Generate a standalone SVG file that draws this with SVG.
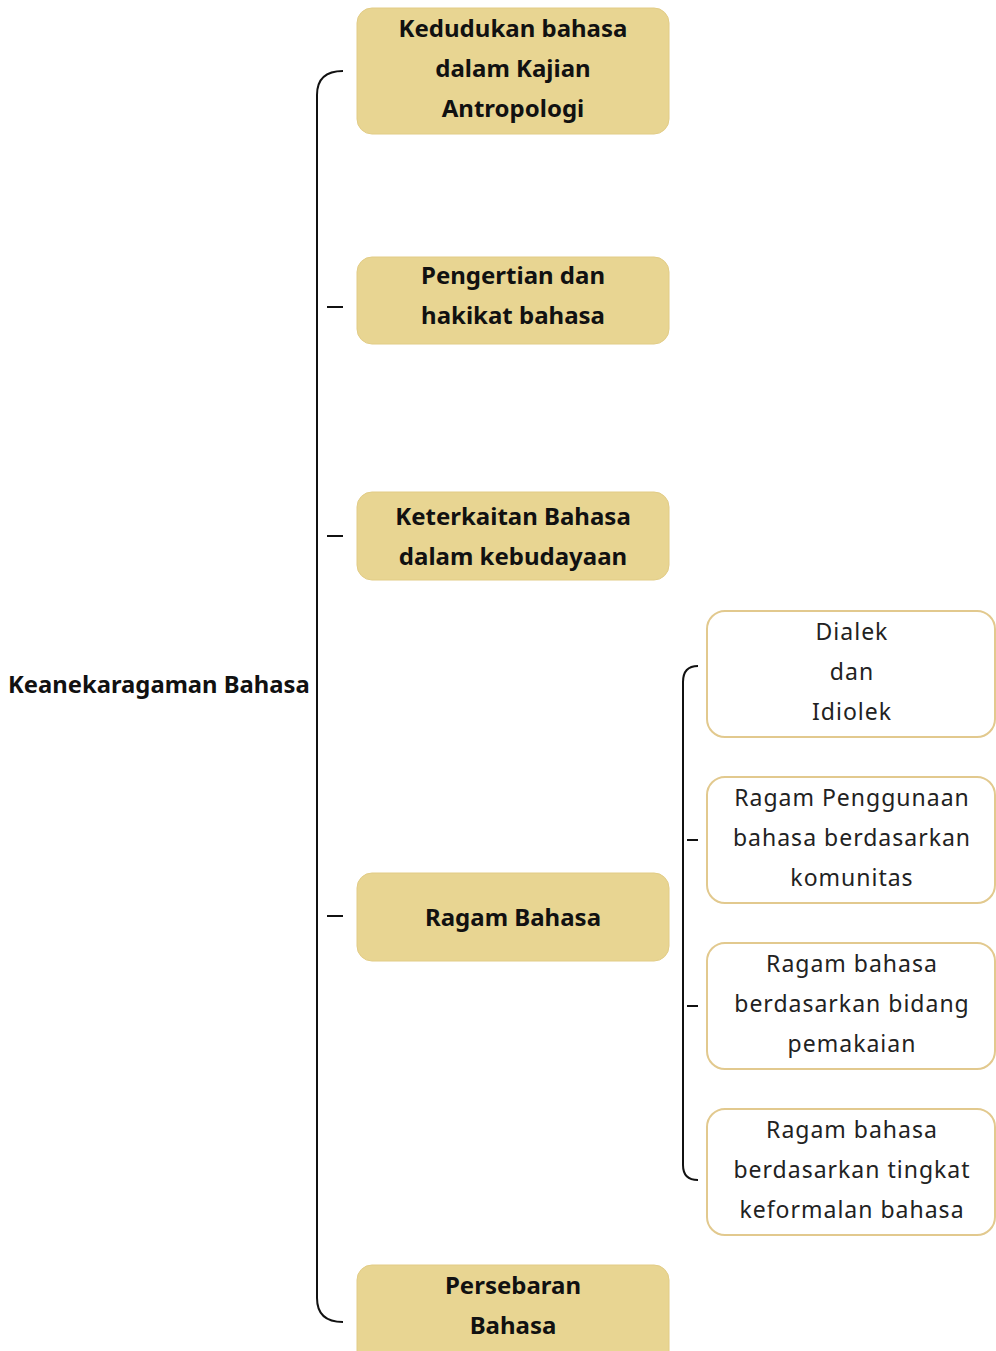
<svg xmlns="http://www.w3.org/2000/svg" width="996" height="1351" viewBox="0 0 996 1351">
<style>
.main rect{fill:#E8D592;stroke:#E2CC86;stroke-width:1}
.main text{font-family:"Noto Sans","Open Sans",sans-serif;font-weight:bold;font-size:24px;fill:#111;text-anchor:middle}
.sub rect{fill:#fff;stroke:#E2C98E;stroke-width:2}
.sub text{font-family:"Noto Sans","Open Sans",sans-serif;font-size:23px;fill:#222;text-anchor:middle;letter-spacing:1px}
.root text{font-family:"Noto Sans","Open Sans",sans-serif;font-weight:bold;font-size:23.8px;fill:#111}
.conn path{fill:none;stroke:#111;stroke-width:2}
</style>
<rect width="996" height="1351" fill="#fff"/>
<g class="conn" id="connectors">
<path d="M343,71 Q317,71 317,95 L317,1298 Q317,1322 343,1322"/>
<path d="M327,307 H343 M327,536 H343 M327,916 H343"/>
<path d="M698,666 Q683,666 683,682 L683,1165 Q683,1180 698,1180"/>
<path d="M687,840 H698 M687,1006 H698"/>
</g>
<g class="root" id="root"><text x="8" y="693">Keanekaragaman Bahasa</text></g>
<g class="main" id="n1"><rect x="357" y="8" width="312" height="126" rx="15"/>
<text x="513" y="37">Kedudukan bahasa</text><text x="513" y="77">dalam Kajian</text><text x="513" y="117">Antropologi</text></g>
<g class="main" id="n2"><rect x="357" y="257" width="312" height="87" rx="15"/>
<text x="513" y="284">Pengertian dan</text><text x="513" y="324">hakikat bahasa</text></g>
<g class="main" id="n3"><rect x="357" y="492" width="312" height="88" rx="15"/>
<text x="513" y="525">Keterkaitan Bahasa</text><text x="513" y="565">dalam kebudayaan</text></g>
<g class="main" id="n4"><rect x="357" y="873" width="312" height="88" rx="15"/>
<text x="513" y="926">Ragam Bahasa</text></g>
<g class="main" id="n5"><rect x="357" y="1265" width="312" height="110" rx="15"/>
<text x="513" y="1294">Persebaran</text><text x="513" y="1334">Bahasa</text></g>
<g class="sub" id="s1"><rect x="707" y="611" width="288" height="126" rx="18"/>
<text x="852" y="640">Dialek</text><text x="852" y="680">dan</text><text x="852" y="720">Idiolek</text></g>
<g class="sub" id="s2"><rect x="707" y="777" width="288" height="126" rx="18"/>
<text x="852" y="806">Ragam Penggunaan</text><text x="852" y="846">bahasa berdasarkan</text><text x="852" y="886">komunitas</text></g>
<g class="sub" id="s3"><rect x="707" y="943" width="288" height="126" rx="18"/>
<text x="852" y="972">Ragam bahasa</text><text x="852" y="1012">berdasarkan bidang</text><text x="852" y="1052">pemakaian</text></g>
<g class="sub" id="s4"><rect x="707" y="1109" width="288" height="126" rx="18"/>
<text x="852" y="1138">Ragam bahasa</text><text x="852" y="1178">berdasarkan tingkat</text><text x="852" y="1218">keformalan bahasa</text></g>
</svg>
